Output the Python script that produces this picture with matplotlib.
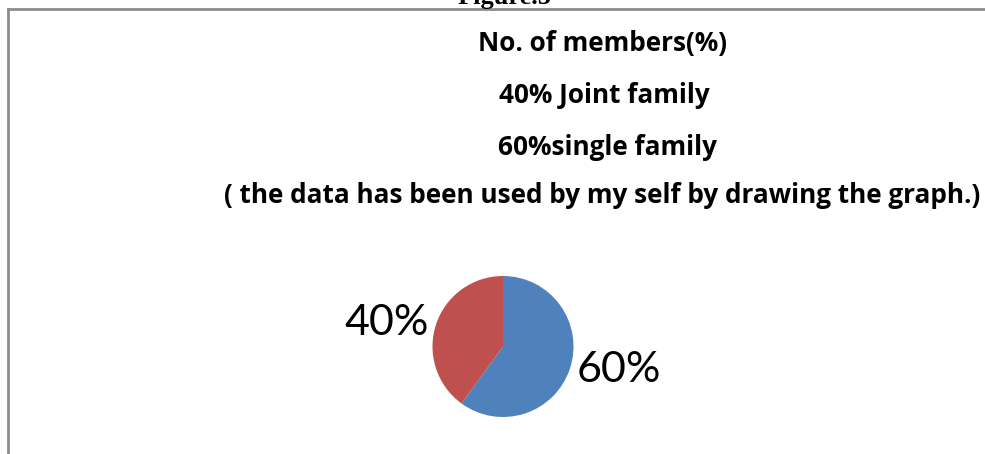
import matplotlib
matplotlib.use("Agg")
import matplotlib.pyplot as plt
from matplotlib.lines import Line2D

categories = ["single family", "Joint family"]
values = [60, 40]
colors = ["#4F81BD", "#C0504D"]
title_lines = ["No. of members(%)", "40% Joint family", "60%single family",
               "( the data has been used by my self by drawing the graph.)"]
fig_caption = "Figure.5"

W, H = 985, 454
fig = plt.figure(figsize=(W / 100, H / 100), dpi=100)
fig.patch.set_facecolor("white")

def fx(px):
    return px / W

def fy(py):
    return 1 - py / H

# frame lines (top and left)
fig.add_artist(Line2D([fx(8), 1.0], [fy(9), fy(9)], color="#8c8c8c", lw=2.0))
fig.add_artist(Line2D([fx(8), fx(8)], [fy(9), 0.0], color="#8c8c8c", lw=2.0))

# caption partially clipped at top
fig.text(fx(505), fy(4), fig_caption, ha="center", va="baseline",
         fontsize=19, fontweight="bold", family="Liberation Serif", color="black")

# title lines
baselines = [51, 103, 155, 203]
centers = [602, 604, 607, 602]
for txt, by, cx in zip(title_lines, baselines, centers):
    fig.text(fx(cx), fy(by), txt, ha="center", va="baseline", fontsize=18.8,
             fontweight="bold", family="Open Sans", color="black")

# pie
cx, cy, r = 503, 346.5, 70.5
ax = fig.add_axes([fx(cx - r), fy(cy + r), (2 * r) / W, (2 * r) / H])
labels = [f"{v}%" for v in values]
wedges, texts = ax.pie(values, colors=colors, startangle=90, counterclock=False,
                       labels=labels, labeldistance=1.1, radius=1,
                       wedgeprops=dict(linewidth=0),
                       textprops=dict(fontsize=31, family="Lato", color="black"))
ax.set_xlim(-1, 1)
ax.set_ylim(-1, 1)
ax.set_aspect("equal")
ax.axis("off")

fig.savefig("out.png", dpi=100, facecolor="white")
